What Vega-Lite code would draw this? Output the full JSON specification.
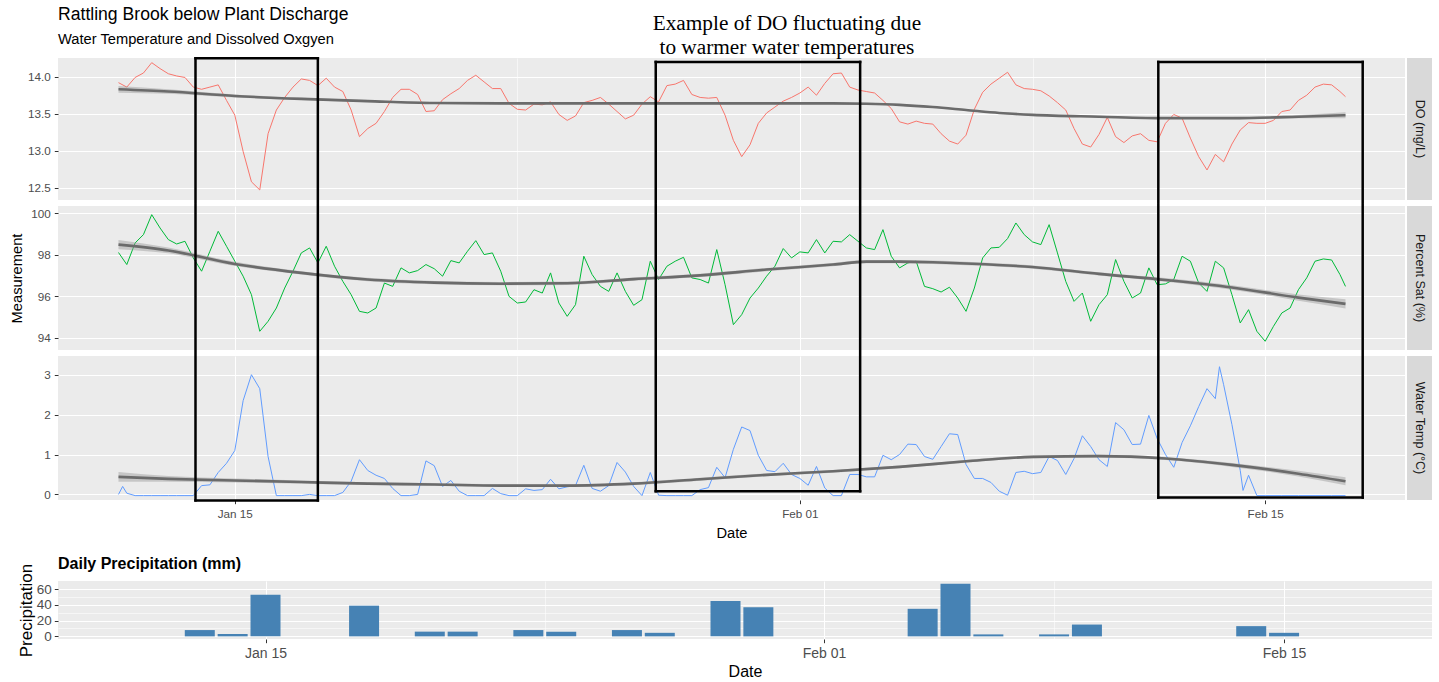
{
"$schema": "https://vega.github.io/schema/vega-lite/v6.json",
"padding": {"left": 9, "top": 6, "right": 5, "bottom": 0},
"background": "white",
"title": {"text": ["Example of DO fluctuating due", "to warmer water temperatures"], "anchor": "middle", "font": "Liberation Serif", "fontSize": 21.3, "fontWeight": "normal", "color": "#000000", "lineHeight": 24, "offset": -52, "dx": 66},
"config": {
  "font": "Liberation Sans",
  "view": {"fill": "#EBEBEB", "stroke": null},
  "axis": {"labelFont": "Liberation Sans", "labelFontSize": 11.7, "labelColor": "#4D4D4D", "tickColor": "#333333", "tickSize": 3.7, "tickWidth": 1, "labelPadding": 4, "domain": false, "gridColor": "#FFFFFF", "titleFont": "Liberation Sans", "titleFontSize": 14.7, "titleFontWeight": "normal", "titleColor": "#000000", "labelOverlap": false}
},
"datasets": {
"do": [
{"t":"2021-01-11T12:00Z","y":13.92},{"t":"2021-01-11T18:00Z","y":13.86},
{"t":"2021-01-12T00:00Z","y":13.99},{"t":"2021-01-12T06:00Z","y":14.05},{"t":"2021-01-12T12:00Z","y":14.19},{"t":"2021-01-12T18:00Z","y":14.11},
{"t":"2021-01-13T00:00Z","y":14.04},{"t":"2021-01-13T06:00Z","y":14.01},{"t":"2021-01-13T12:00Z","y":13.99},{"t":"2021-01-13T18:00Z","y":13.86},
{"t":"2021-01-14T00:00Z","y":13.83},{"t":"2021-01-14T06:00Z","y":13.86},{"t":"2021-01-14T12:00Z","y":13.89},{"t":"2021-01-14T18:00Z","y":13.68},
{"t":"2021-01-15T00:00Z","y":13.48},{"t":"2021-01-15T06:00Z","y":12.99},{"t":"2021-01-15T12:00Z","y":12.58},{"t":"2021-01-15T18:00Z","y":12.47},
{"t":"2021-01-16T00:00Z","y":13.23},{"t":"2021-01-16T06:00Z","y":13.55},{"t":"2021-01-16T12:00Z","y":13.72},{"t":"2021-01-16T18:00Z","y":13.86},
{"t":"2021-01-17T00:00Z","y":13.97},{"t":"2021-01-17T06:00Z","y":13.95},{"t":"2021-01-17T12:00Z","y":13.88},{"t":"2021-01-17T18:00Z","y":13.98},
{"t":"2021-01-18T00:00Z","y":13.86},{"t":"2021-01-18T06:00Z","y":13.80},{"t":"2021-01-18T12:00Z","y":13.55},{"t":"2021-01-18T18:00Z","y":13.19},
{"t":"2021-01-19T00:00Z","y":13.30},{"t":"2021-01-19T06:00Z","y":13.37},{"t":"2021-01-19T12:00Z","y":13.53},{"t":"2021-01-19T18:00Z","y":13.72},
{"t":"2021-01-20T00:00Z","y":13.83},{"t":"2021-01-20T06:00Z","y":13.83},{"t":"2021-01-20T12:00Z","y":13.76},{"t":"2021-01-20T18:00Z","y":13.53},
{"t":"2021-01-21T00:00Z","y":13.54},{"t":"2021-01-21T06:00Z","y":13.69},{"t":"2021-01-21T12:00Z","y":13.77},{"t":"2021-01-21T18:00Z","y":13.84},
{"t":"2021-01-22T00:00Z","y":13.95},{"t":"2021-01-22T06:00Z","y":14.02},{"t":"2021-01-22T12:00Z","y":13.93},{"t":"2021-01-22T18:00Z","y":13.84},
{"t":"2021-01-23T00:00Z","y":13.84},{"t":"2021-01-23T06:00Z","y":13.64},{"t":"2021-01-23T12:00Z","y":13.56},{"t":"2021-01-23T18:00Z","y":13.55},
{"t":"2021-01-24T00:00Z","y":13.63},{"t":"2021-01-24T06:00Z","y":13.62},{"t":"2021-01-24T12:00Z","y":13.66},{"t":"2021-01-24T18:00Z","y":13.49},
{"t":"2021-01-25T00:00Z","y":13.41},{"t":"2021-01-25T06:00Z","y":13.47},{"t":"2021-01-25T12:00Z","y":13.65},{"t":"2021-01-25T18:00Z","y":13.68},
{"t":"2021-01-26T00:00Z","y":13.72},{"t":"2021-01-26T06:00Z","y":13.63},{"t":"2021-01-26T12:00Z","y":13.53},{"t":"2021-01-26T18:00Z","y":13.43},
{"t":"2021-01-27T00:00Z","y":13.48},{"t":"2021-01-27T06:00Z","y":13.63},{"t":"2021-01-27T12:00Z","y":13.73},{"t":"2021-01-27T18:00Z","y":13.66},
{"t":"2021-01-28T00:00Z","y":13.88},{"t":"2021-01-28T06:00Z","y":13.90},{"t":"2021-01-28T12:00Z","y":13.95},{"t":"2021-01-28T18:00Z","y":13.76},
{"t":"2021-01-29T00:00Z","y":13.72},{"t":"2021-01-29T06:00Z","y":13.71},{"t":"2021-01-29T12:00Z","y":13.72},{"t":"2021-01-29T18:00Z","y":13.48},
{"t":"2021-01-30T00:00Z","y":13.14},{"t":"2021-01-30T06:00Z","y":12.92},{"t":"2021-01-30T12:00Z","y":13.08},{"t":"2021-01-30T18:00Z","y":13.37},
{"t":"2021-01-31T00:00Z","y":13.51},{"t":"2021-01-31T06:00Z","y":13.59},{"t":"2021-01-31T12:00Z","y":13.67},{"t":"2021-01-31T18:00Z","y":13.72},
{"t":"2021-02-01T00:00Z","y":13.78},{"t":"2021-02-01T06:00Z","y":13.86},{"t":"2021-02-01T12:00Z","y":13.75},{"t":"2021-02-01T18:00Z","y":13.91},
{"t":"2021-02-02T00:00Z","y":14.04},{"t":"2021-02-02T06:00Z","y":14.05},{"t":"2021-02-02T12:00Z","y":13.86},{"t":"2021-02-02T18:00Z","y":13.82},
{"t":"2021-02-03T00:00Z","y":13.80},{"t":"2021-02-03T06:00Z","y":13.78},{"t":"2021-02-03T12:00Z","y":13.68},{"t":"2021-02-03T18:00Z","y":13.57},
{"t":"2021-02-04T00:00Z","y":13.39},{"t":"2021-02-04T06:00Z","y":13.36},{"t":"2021-02-04T12:00Z","y":13.40},{"t":"2021-02-04T18:00Z","y":13.37},
{"t":"2021-02-05T00:00Z","y":13.36},{"t":"2021-02-05T06:00Z","y":13.23},{"t":"2021-02-05T12:00Z","y":13.13},{"t":"2021-02-05T18:00Z","y":13.09},
{"t":"2021-02-06T00:00Z","y":13.21},{"t":"2021-02-06T06:00Z","y":13.56},{"t":"2021-02-06T12:00Z","y":13.79},{"t":"2021-02-06T18:00Z","y":13.90},
{"t":"2021-02-07T00:00Z","y":13.98},{"t":"2021-02-07T06:00Z","y":14.06},{"t":"2021-02-07T12:00Z","y":13.89},{"t":"2021-02-07T18:00Z","y":13.84},
{"t":"2021-02-08T00:00Z","y":13.83},{"t":"2021-02-08T06:00Z","y":13.81},{"t":"2021-02-08T12:00Z","y":13.74},{"t":"2021-02-08T18:00Z","y":13.65},
{"t":"2021-02-09T00:00Z","y":13.55},{"t":"2021-02-09T06:00Z","y":13.30},{"t":"2021-02-09T12:00Z","y":13.09},{"t":"2021-02-09T18:00Z","y":13.05},
{"t":"2021-02-10T00:00Z","y":13.22},{"t":"2021-02-10T06:00Z","y":13.45},{"t":"2021-02-10T12:00Z","y":13.19},{"t":"2021-02-10T18:00Z","y":13.11},
{"t":"2021-02-11T00:00Z","y":13.20},{"t":"2021-02-11T06:00Z","y":13.23},{"t":"2021-02-11T12:00Z","y":13.14},{"t":"2021-02-11T18:00Z","y":13.12},
{"t":"2021-02-12T00:00Z","y":13.37},{"t":"2021-02-12T06:00Z","y":13.49},{"t":"2021-02-12T12:00Z","y":13.44},{"t":"2021-02-12T18:00Z","y":13.17},
{"t":"2021-02-13T00:00Z","y":12.92},{"t":"2021-02-13T06:00Z","y":12.74},{"t":"2021-02-13T12:00Z","y":12.95},{"t":"2021-02-13T18:00Z","y":12.85},
{"t":"2021-02-14T00:00Z","y":13.09},{"t":"2021-02-14T06:00Z","y":13.28},{"t":"2021-02-14T12:00Z","y":13.38},{"t":"2021-02-14T18:00Z","y":13.37},
{"t":"2021-02-15T00:00Z","y":13.37},{"t":"2021-02-15T06:00Z","y":13.41},{"t":"2021-02-15T12:00Z","y":13.53},{"t":"2021-02-15T18:00Z","y":13.55},
{"t":"2021-02-16T00:00Z","y":13.68},{"t":"2021-02-16T06:00Z","y":13.75},{"t":"2021-02-16T12:00Z","y":13.86},{"t":"2021-02-16T18:00Z","y":13.90},
{"t":"2021-02-17T00:00Z","y":13.89},{"t":"2021-02-17T06:00Z","y":13.80},{"t":"2021-02-17T10:00Z","y":13.73}
],
"sat": [
{"t":"2021-01-11T12:00Z","y":98.1},{"t":"2021-01-11T18:00Z","y":97.52},
{"t":"2021-01-12T00:00Z","y":98.56},{"t":"2021-01-12T06:00Z","y":98.96},{"t":"2021-01-12T12:00Z","y":99.92},{"t":"2021-01-12T18:00Z","y":99.28},
{"t":"2021-01-13T00:00Z","y":98.72},{"t":"2021-01-13T06:00Z","y":98.51},{"t":"2021-01-13T12:00Z","y":98.64},{"t":"2021-01-13T18:00Z","y":97.84},
{"t":"2021-01-14T00:00Z","y":97.2},{"t":"2021-01-14T06:00Z","y":98.16},{"t":"2021-01-14T12:00Z","y":99.12},{"t":"2021-01-14T18:00Z","y":98.4},
{"t":"2021-01-15T00:00Z","y":97.68},{"t":"2021-01-15T06:00Z","y":96.96},{"t":"2021-01-15T12:00Z","y":96.07},{"t":"2021-01-15T18:00Z","y":94.31},
{"t":"2021-01-16T00:00Z","y":94.79},{"t":"2021-01-16T06:00Z","y":95.43},{"t":"2021-01-16T12:00Z","y":96.39},{"t":"2021-01-16T18:00Z","y":97.2},
{"t":"2021-01-17T00:00Z","y":98.08},{"t":"2021-01-17T06:00Z","y":98.32},{"t":"2021-01-17T12:00Z","y":97.6},{"t":"2021-01-17T18:00Z","y":98.4},
{"t":"2021-01-18T00:00Z","y":97.44},{"t":"2021-01-18T06:00Z","y":96.71},{"t":"2021-01-18T12:00Z","y":96.07},{"t":"2021-01-18T18:00Z","y":95.27},
{"t":"2021-01-19T00:00Z","y":95.19},{"t":"2021-01-19T06:00Z","y":95.43},{"t":"2021-01-19T12:00Z","y":96.63},{"t":"2021-01-19T18:00Z","y":96.47},
{"t":"2021-01-20T00:00Z","y":97.36},{"t":"2021-01-20T06:00Z","y":97.12},{"t":"2021-01-20T12:00Z","y":97.23},{"t":"2021-01-20T18:00Z","y":97.52},
{"t":"2021-01-21T00:00Z","y":97.32},{"t":"2021-01-21T06:00Z","y":96.96},{"t":"2021-01-21T12:00Z","y":97.71},{"t":"2021-01-21T18:00Z","y":97.6},
{"t":"2021-01-22T00:00Z","y":98.16},{"t":"2021-01-22T06:00Z","y":98.67},{"t":"2021-01-22T12:00Z","y":98.0},{"t":"2021-01-22T18:00Z","y":98.08},
{"t":"2021-01-23T00:00Z","y":97.2},{"t":"2021-01-23T06:00Z","y":95.99},{"t":"2021-01-23T12:00Z","y":95.67},{"t":"2021-01-23T18:00Z","y":95.72},
{"t":"2021-01-24T00:00Z","y":96.31},{"t":"2021-01-24T06:00Z","y":96.15},{"t":"2021-01-24T12:00Z","y":97.12},{"t":"2021-01-24T18:00Z","y":95.67},
{"t":"2021-01-25T00:00Z","y":95.03},{"t":"2021-01-25T06:00Z","y":95.59},{"t":"2021-01-25T12:00Z","y":97.92},{"t":"2021-01-25T18:00Z","y":97.04},
{"t":"2021-01-26T00:00Z","y":96.47},{"t":"2021-01-26T06:00Z","y":96.23},{"t":"2021-01-26T12:00Z","y":97.12},{"t":"2021-01-26T18:00Z","y":96.23},
{"t":"2021-01-27T00:00Z","y":95.56},{"t":"2021-01-27T06:00Z","y":95.83},{"t":"2021-01-27T12:00Z","y":97.68},{"t":"2021-01-27T18:00Z","y":96.8},
{"t":"2021-01-28T00:00Z","y":97.44},{"t":"2021-01-28T06:00Z","y":97.68},{"t":"2021-01-28T12:00Z","y":97.87},{"t":"2021-01-28T18:00Z","y":96.88},
{"t":"2021-01-29T00:00Z","y":96.8},{"t":"2021-01-29T06:00Z","y":96.63},{"t":"2021-01-29T12:00Z","y":98.24},{"t":"2021-01-29T18:00Z","y":96.55},
{"t":"2021-01-30T00:00Z","y":94.63},{"t":"2021-01-30T06:00Z","y":95.11},{"t":"2021-01-30T12:00Z","y":95.91},{"t":"2021-01-30T18:00Z","y":96.39},
{"t":"2021-01-31T00:00Z","y":96.96},{"t":"2021-01-31T06:00Z","y":97.44},{"t":"2021-01-31T12:00Z","y":98.29},{"t":"2021-01-31T18:00Z","y":97.84},
{"t":"2021-02-01T00:00Z","y":98.13},{"t":"2021-02-01T06:00Z","y":98.08},{"t":"2021-02-01T12:00Z","y":98.72},{"t":"2021-02-01T18:00Z","y":98.08},
{"t":"2021-02-02T00:00Z","y":98.64},{"t":"2021-02-02T06:00Z","y":98.61},{"t":"2021-02-02T12:00Z","y":98.96},{"t":"2021-02-02T18:00Z","y":98.64},
{"t":"2021-02-03T00:00Z","y":98.32},{"t":"2021-02-03T06:00Z","y":98.24},{"t":"2021-02-03T12:00Z","y":99.2},{"t":"2021-02-03T18:00Z","y":97.92},
{"t":"2021-02-04T00:00Z","y":97.36},{"t":"2021-02-04T06:00Z","y":97.6},{"t":"2021-02-04T12:00Z","y":97.68},{"t":"2021-02-04T18:00Z","y":96.47},
{"t":"2021-02-05T00:00Z","y":96.36},{"t":"2021-02-05T06:00Z","y":96.2},{"t":"2021-02-05T12:00Z","y":96.43},{"t":"2021-02-05T18:00Z","y":95.91},
{"t":"2021-02-06T00:00Z","y":95.27},{"t":"2021-02-06T06:00Z","y":96.39},{"t":"2021-02-06T12:00Z","y":97.84},{"t":"2021-02-06T18:00Z","y":98.32},
{"t":"2021-02-07T00:00Z","y":98.35},{"t":"2021-02-07T06:00Z","y":98.77},{"t":"2021-02-07T12:00Z","y":99.52},{"t":"2021-02-07T18:00Z","y":98.96},
{"t":"2021-02-08T00:00Z","y":98.61},{"t":"2021-02-08T06:00Z","y":98.48},{"t":"2021-02-08T12:00Z","y":99.44},{"t":"2021-02-08T18:00Z","y":98.08},
{"t":"2021-02-09T00:00Z","y":96.71},{"t":"2021-02-09T06:00Z","y":95.75},{"t":"2021-02-09T12:00Z","y":96.15},{"t":"2021-02-09T18:00Z","y":94.79},
{"t":"2021-02-10T00:00Z","y":95.59},{"t":"2021-02-10T06:00Z","y":96.07},{"t":"2021-02-10T12:00Z","y":97.76},{"t":"2021-02-10T18:00Z","y":96.71},
{"t":"2021-02-11T00:00Z","y":95.91},{"t":"2021-02-11T06:00Z","y":96.15},{"t":"2021-02-11T12:00Z","y":97.36},{"t":"2021-02-11T18:00Z","y":96.55},
{"t":"2021-02-12T00:00Z","y":96.59},{"t":"2021-02-12T06:00Z","y":96.8},{"t":"2021-02-12T12:00Z","y":97.92},{"t":"2021-02-12T18:00Z","y":97.68},
{"t":"2021-02-13T00:00Z","y":96.63},{"t":"2021-02-13T06:00Z","y":96.23},{"t":"2021-02-13T12:00Z","y":97.68},{"t":"2021-02-13T18:00Z","y":97.36},
{"t":"2021-02-14T00:00Z","y":96.07},{"t":"2021-02-14T06:00Z","y":94.71},{"t":"2021-02-14T12:00Z","y":95.35},{"t":"2021-02-14T18:00Z","y":94.31},
{"t":"2021-02-15T00:00Z","y":93.83},{"t":"2021-02-15T06:00Z","y":94.55},{"t":"2021-02-15T12:00Z","y":95.19},{"t":"2021-02-15T18:00Z","y":95.43},
{"t":"2021-02-16T00:00Z","y":96.31},{"t":"2021-02-16T06:00Z","y":96.88},{"t":"2021-02-16T12:00Z","y":97.68},{"t":"2021-02-16T18:00Z","y":97.79},
{"t":"2021-02-17T00:00Z","y":97.74},{"t":"2021-02-17T06:00Z","y":97.04},{"t":"2021-02-17T10:00Z","y":96.47}
],
"temp": [
{"t":"2021-01-11T12:00Z","y":0.0},{"t":"2021-01-11T15:00Z","y":0.2},{"t":"2021-01-11T18:00Z","y":0.03},
{"t":"2021-01-12T00:00Z","y":-0.03},{"t":"2021-01-12T06:00Z","y":-0.03},{"t":"2021-01-12T12:00Z","y":-0.03},{"t":"2021-01-12T18:00Z","y":-0.03},
{"t":"2021-01-13T00:00Z","y":-0.03},{"t":"2021-01-13T06:00Z","y":-0.03},{"t":"2021-01-13T12:00Z","y":-0.03},{"t":"2021-01-13T18:00Z","y":-0.03},
{"t":"2021-01-14T00:00Z","y":0.22},{"t":"2021-01-14T06:00Z","y":0.24},{"t":"2021-01-14T12:00Z","y":0.55},{"t":"2021-01-14T18:00Z","y":0.78},
{"t":"2021-01-15T00:00Z","y":1.1},{"t":"2021-01-15T06:00Z","y":2.35},{"t":"2021-01-15T12:00Z","y":3.0},{"t":"2021-01-15T18:00Z","y":2.65},
{"t":"2021-01-16T00:00Z","y":0.95},{"t":"2021-01-16T06:00Z","y":-0.03},{"t":"2021-01-16T12:00Z","y":-0.03},{"t":"2021-01-16T18:00Z","y":-0.03},
{"t":"2021-01-17T00:00Z","y":-0.03},{"t":"2021-01-17T06:00Z","y":0.0},{"t":"2021-01-17T12:00Z","y":-0.03},{"t":"2021-01-17T18:00Z","y":-0.03},
{"t":"2021-01-18T00:00Z","y":-0.03},{"t":"2021-01-18T06:00Z","y":0.05},{"t":"2021-01-18T12:00Z","y":0.33},{"t":"2021-01-18T18:00Z","y":0.87},
{"t":"2021-01-19T00:00Z","y":0.6},{"t":"2021-01-19T06:00Z","y":0.48},{"t":"2021-01-19T12:00Z","y":0.4},{"t":"2021-01-19T18:00Z","y":0.15},
{"t":"2021-01-20T00:00Z","y":-0.03},{"t":"2021-01-20T06:00Z","y":-0.03},{"t":"2021-01-20T12:00Z","y":0.0},{"t":"2021-01-20T18:00Z","y":0.84},
{"t":"2021-01-21T00:00Z","y":0.72},{"t":"2021-01-21T06:00Z","y":0.2},{"t":"2021-01-21T12:00Z","y":0.35},{"t":"2021-01-21T18:00Z","y":0.08},
{"t":"2021-01-22T00:00Z","y":-0.03},{"t":"2021-01-22T06:00Z","y":-0.03},{"t":"2021-01-22T12:00Z","y":-0.03},{"t":"2021-01-22T18:00Z","y":0.15},
{"t":"2021-01-23T00:00Z","y":0.02},{"t":"2021-01-23T06:00Z","y":-0.03},{"t":"2021-01-23T12:00Z","y":-0.03},{"t":"2021-01-23T18:00Z","y":0.14},
{"t":"2021-01-24T00:00Z","y":0.1},{"t":"2021-01-24T06:00Z","y":0.12},{"t":"2021-01-24T12:00Z","y":0.38},{"t":"2021-01-24T18:00Z","y":0.14},
{"t":"2021-01-25T00:00Z","y":0.19},{"t":"2021-01-25T06:00Z","y":0.22},{"t":"2021-01-25T12:00Z","y":0.73},{"t":"2021-01-25T18:00Z","y":0.15},
{"t":"2021-01-26T00:00Z","y":0.08},{"t":"2021-01-26T06:00Z","y":0.22},{"t":"2021-01-26T12:00Z","y":0.8},{"t":"2021-01-26T18:00Z","y":0.56},
{"t":"2021-01-27T00:00Z","y":0.2},{"t":"2021-01-27T06:00Z","y":-0.03},{"t":"2021-01-27T12:00Z","y":0.55},{"t":"2021-01-27T18:00Z","y":-0.02},
{"t":"2021-01-28T00:00Z","y":-0.03},{"t":"2021-01-28T06:00Z","y":-0.03},{"t":"2021-01-28T12:00Z","y":-0.03},{"t":"2021-01-28T18:00Z","y":-0.03},
{"t":"2021-01-29T00:00Z","y":0.12},{"t":"2021-01-29T06:00Z","y":0.17},{"t":"2021-01-29T12:00Z","y":0.68},{"t":"2021-01-29T18:00Z","y":0.42},
{"t":"2021-01-30T00:00Z","y":1.13},{"t":"2021-01-30T06:00Z","y":1.69},{"t":"2021-01-30T12:00Z","y":1.6},{"t":"2021-01-30T18:00Z","y":0.98},
{"t":"2021-01-31T00:00Z","y":0.6},{"t":"2021-01-31T06:00Z","y":0.57},{"t":"2021-01-31T12:00Z","y":0.78},{"t":"2021-01-31T18:00Z","y":0.5},
{"t":"2021-02-01T00:00Z","y":0.4},{"t":"2021-02-01T06:00Z","y":0.23},{"t":"2021-02-01T12:00Z","y":0.7},{"t":"2021-02-01T18:00Z","y":0.16},
{"t":"2021-02-02T00:00Z","y":-0.03},{"t":"2021-02-02T06:00Z","y":-0.03},{"t":"2021-02-02T12:00Z","y":0.5},{"t":"2021-02-02T18:00Z","y":0.5},
{"t":"2021-02-03T00:00Z","y":0.44},{"t":"2021-02-03T06:00Z","y":0.44},{"t":"2021-02-03T12:00Z","y":0.98},{"t":"2021-02-03T18:00Z","y":0.87},
{"t":"2021-02-04T00:00Z","y":1.0},{"t":"2021-02-04T06:00Z","y":1.26},{"t":"2021-02-04T12:00Z","y":1.25},{"t":"2021-02-04T18:00Z","y":0.95},
{"t":"2021-02-05T00:00Z","y":0.88},{"t":"2021-02-05T06:00Z","y":1.2},{"t":"2021-02-05T12:00Z","y":1.52},{"t":"2021-02-05T18:00Z","y":1.5},
{"t":"2021-02-06T00:00Z","y":0.75},{"t":"2021-02-06T06:00Z","y":0.4},{"t":"2021-02-06T12:00Z","y":0.4},{"t":"2021-02-06T18:00Z","y":0.3},
{"t":"2021-02-07T00:00Z","y":0.08},{"t":"2021-02-07T06:00Z","y":-0.02},{"t":"2021-02-07T12:00Z","y":0.55},{"t":"2021-02-07T18:00Z","y":0.58},
{"t":"2021-02-08T00:00Z","y":0.52},{"t":"2021-02-08T06:00Z","y":0.55},{"t":"2021-02-08T12:00Z","y":0.95},{"t":"2021-02-08T18:00Z","y":0.85},
{"t":"2021-02-09T00:00Z","y":0.5},{"t":"2021-02-09T06:00Z","y":0.9},{"t":"2021-02-09T12:00Z","y":1.47},{"t":"2021-02-09T18:00Z","y":1.2},
{"t":"2021-02-10T00:00Z","y":0.87},{"t":"2021-02-10T06:00Z","y":0.7},{"t":"2021-02-10T12:00Z","y":1.8},{"t":"2021-02-10T18:00Z","y":1.62},
{"t":"2021-02-11T00:00Z","y":1.25},{"t":"2021-02-11T06:00Z","y":1.26},{"t":"2021-02-11T12:00Z","y":1.98},{"t":"2021-02-11T18:00Z","y":1.4},
{"t":"2021-02-12T00:00Z","y":1.0},{"t":"2021-02-12T06:00Z","y":0.68},{"t":"2021-02-12T12:00Z","y":1.3},{"t":"2021-02-12T18:00Z","y":1.72},
{"t":"2021-02-13T00:00Z","y":2.2},{"t":"2021-02-13T06:00Z","y":2.65},{"t":"2021-02-13T12:00Z","y":2.4},{"t":"2021-02-13T15:00Z","y":3.2},{"t":"2021-02-13T18:00Z","y":2.75},
{"t":"2021-02-14T00:00Z","y":1.75},{"t":"2021-02-14T06:00Z","y":0.6},{"t":"2021-02-14T08:00Z","y":0.1},{"t":"2021-02-14T12:00Z","y":0.48},{"t":"2021-02-14T18:00Z","y":-0.03},
{"t":"2021-02-15T00:00Z","y":-0.03},{"t":"2021-02-15T12:00Z","y":-0.03},
{"t":"2021-02-16T00:00Z","y":-0.03},{"t":"2021-02-16T12:00Z","y":-0.03},
{"t":"2021-02-17T00:00Z","y":-0.03},{"t":"2021-02-17T10:00Z","y":-0.03}
],
"do_fit": [
{"t":"2021-01-11T12:00Z","fit":13.83,"lo":13.785,"hi":13.875},
{"t":"2021-01-13T00:00Z","fit":13.80,"lo":13.77,"hi":13.83},
{"t":"2021-01-15T00:00Z","fit":13.74,"lo":13.72,"hi":13.76},
{"t":"2021-01-17T00:00Z","fit":13.70,"lo":13.685,"hi":13.715},
{"t":"2021-01-19T00:00Z","fit":13.67,"lo":13.655,"hi":13.685},
{"t":"2021-01-21T00:00Z","fit":13.645,"lo":13.632,"hi":13.658},
{"t":"2021-01-23T00:00Z","fit":13.64,"lo":13.628,"hi":13.652},
{"t":"2021-01-25T00:00Z","fit":13.64,"lo":13.628,"hi":13.652},
{"t":"2021-01-27T00:00Z","fit":13.64,"lo":13.628,"hi":13.652},
{"t":"2021-01-29T00:00Z","fit":13.64,"lo":13.628,"hi":13.652},
{"t":"2021-01-31T00:00Z","fit":13.64,"lo":13.628,"hi":13.652},
{"t":"2021-02-02T00:00Z","fit":13.64,"lo":13.628,"hi":13.652},
{"t":"2021-02-03T00:00Z","fit":13.635,"lo":13.623,"hi":13.647},
{"t":"2021-02-04T00:00Z","fit":13.62,"lo":13.608,"hi":13.632},
{"t":"2021-02-05T00:00Z","fit":13.59,"lo":13.578,"hi":13.602},
{"t":"2021-02-06T00:00Z","fit":13.55,"lo":13.538,"hi":13.562},
{"t":"2021-02-07T00:00Z","fit":13.51,"lo":13.498,"hi":13.522},
{"t":"2021-02-08T00:00Z","fit":13.485,"lo":13.473,"hi":13.497},
{"t":"2021-02-10T00:00Z","fit":13.46,"lo":13.447,"hi":13.473},
{"t":"2021-02-12T00:00Z","fit":13.44,"lo":13.427,"hi":13.453},
{"t":"2021-02-14T00:00Z","fit":13.44,"lo":13.425,"hi":13.455},
{"t":"2021-02-16T00:00Z","fit":13.46,"lo":13.438,"hi":13.482},
{"t":"2021-02-17T10:00Z","fit":13.48,"lo":13.44,"hi":13.52}
],
"sat_fit": [
{"t":"2021-01-11T12:00Z","fit":98.48,"lo":98.26,"hi":98.70},
{"t":"2021-01-13T00:00Z","fit":98.2,"lo":98.06,"hi":98.34},
{"t":"2021-01-15T00:00Z","fit":97.55,"lo":97.45,"hi":97.65},
{"t":"2021-01-17T00:00Z","fit":97.12,"lo":97.04,"hi":97.20},
{"t":"2021-01-19T00:00Z","fit":96.8,"lo":96.72,"hi":96.88},
{"t":"2021-01-21T00:00Z","fit":96.65,"lo":96.57,"hi":96.73},
{"t":"2021-01-23T00:00Z","fit":96.6,"lo":96.52,"hi":96.68},
{"t":"2021-01-25T00:00Z","fit":96.62,"lo":96.54,"hi":96.70},
{"t":"2021-01-27T00:00Z","fit":96.82,"lo":96.74,"hi":96.90},
{"t":"2021-01-29T00:00Z","fit":97.0,"lo":96.92,"hi":97.08},
{"t":"2021-01-31T00:00Z","fit":97.28,"lo":97.20,"hi":97.36},
{"t":"2021-02-02T00:00Z","fit":97.52,"lo":97.44,"hi":97.60},
{"t":"2021-02-03T00:00Z","fit":97.66,"lo":97.58,"hi":97.74},
{"t":"2021-02-04T00:00Z","fit":97.66,"lo":97.58,"hi":97.74},
{"t":"2021-02-05T00:00Z","fit":97.63,"lo":97.55,"hi":97.71},
{"t":"2021-02-06T00:00Z","fit":97.57,"lo":97.49,"hi":97.65},
{"t":"2021-02-08T00:00Z","fit":97.4,"lo":97.32,"hi":97.48},
{"t":"2021-02-10T00:00Z","fit":97.07,"lo":96.99,"hi":97.15},
{"t":"2021-02-12T00:00Z","fit":96.78,"lo":96.69,"hi":96.87},
{"t":"2021-02-14T00:00Z","fit":96.42,"lo":96.31,"hi":96.53},
{"t":"2021-02-16T00:00Z","fit":95.93,"lo":95.78,"hi":96.08},
{"t":"2021-02-17T10:00Z","fit":95.63,"lo":95.41,"hi":95.85}
],
"temp_fit": [
{"t":"2021-01-11T12:00Z","fit":0.44,"lo":0.32,"hi":0.56},
{"t":"2021-01-13T00:00Z","fit":0.39,"lo":0.32,"hi":0.46},
{"t":"2021-01-15T00:00Z","fit":0.35,"lo":0.30,"hi":0.40},
{"t":"2021-01-17T00:00Z","fit":0.31,"lo":0.27,"hi":0.35},
{"t":"2021-01-19T00:00Z","fit":0.27,"lo":0.235,"hi":0.305},
{"t":"2021-01-21T00:00Z","fit":0.25,"lo":0.215,"hi":0.285},
{"t":"2021-01-23T00:00Z","fit":0.22,"lo":0.185,"hi":0.255},
{"t":"2021-01-25T00:00Z","fit":0.22,"lo":0.185,"hi":0.255},
{"t":"2021-01-27T00:00Z","fit":0.27,"lo":0.235,"hi":0.305},
{"t":"2021-01-29T00:00Z","fit":0.38,"lo":0.345,"hi":0.415},
{"t":"2021-01-31T00:00Z","fit":0.49,"lo":0.455,"hi":0.525},
{"t":"2021-02-02T00:00Z","fit":0.58,"lo":0.545,"hi":0.615},
{"t":"2021-02-04T00:00Z","fit":0.69,"lo":0.655,"hi":0.725},
{"t":"2021-02-06T00:00Z","fit":0.83,"lo":0.795,"hi":0.865},
{"t":"2021-02-08T00:00Z","fit":0.94,"lo":0.905,"hi":0.975},
{"t":"2021-02-10T00:00Z","fit":0.96,"lo":0.925,"hi":0.995},
{"t":"2021-02-12T00:00Z","fit":0.9,"lo":0.86,"hi":0.94},
{"t":"2021-02-14T00:00Z","fit":0.74,"lo":0.69,"hi":0.79},
{"t":"2021-02-16T00:00Z","fit":0.52,"lo":0.45,"hi":0.59},
{"t":"2021-02-17T10:00Z","fit":0.33,"lo":0.23,"hi":0.43}
],
"boxes": [
{"start":"2021-01-13T19:36Z","end":"2021-01-17T11:57Z","top":14.25,"bottom":-0.15},
{"start":"2021-01-27T15:56Z","end":"2021-02-02T19:32Z","top":14.2,"bottom":0.08},
{"start":"2021-02-11T18:50Z","end":"2021-02-17T22:25Z","top":14.2,"bottom":-0.08}
],
"precip": [
{"date":"2021-01-13","precip":8},{"date":"2021-01-14","precip":3},{"date":"2021-01-15","precip":53},
{"date":"2021-01-18","precip":39},{"date":"2021-01-20","precip":6},{"date":"2021-01-21","precip":6},
{"date":"2021-01-23","precip":8},{"date":"2021-01-24","precip":6},{"date":"2021-01-26","precip":8},
{"date":"2021-01-27","precip":4.5},{"date":"2021-01-29","precip":45},{"date":"2021-01-30","precip":37},
{"date":"2021-02-04","precip":35},{"date":"2021-02-05","precip":67},{"date":"2021-02-06","precip":2.5},
{"date":"2021-02-08","precip":2.5},{"date":"2021-02-09","precip":15},{"date":"2021-02-14","precip":13},
{"date":"2021-02-15","precip":4.5}
]
},
"spacing": 15,
"vconcat": [
{
"spacing": -2,
"vconcat": [
{
"spacing": 2,
"hconcat": [
{
"width": 1347, "height": 142,
"title": {"text": "Rattling Brook below Plant Discharge", "subtitle": "Water Temperature and Dissolved Oxgyen", "anchor": "start", "frame": "group", "font": "Liberation Sans", "fontSize": 17.6, "fontWeight": "normal", "color": "#000000", "subtitleFont": "Liberation Sans", "subtitleFontSize": 14.7, "subtitleColor": "#000000", "subtitlePadding": 8, "offset": 10},
"layer": [
{"data": {"name": "do"}, "mark": {"type": "line", "color": "#F8766D", "strokeWidth": 1},
 "encoding": {
  "x": {"field": "t", "type": "temporal", "scale": {"type": "utc", "nice": false, "domain": [{"year":2021,"month":1,"date":9,"hours":16,"minutes":19,"utc":true},{"year":2021,"month":2,"date":19,"hours":4,"minutes":58,"utc":true}]},
        "axis": {"values": [{"year":2021,"month":1,"date":15,"utc":true},{"year":2021,"month":1,"date":23,"hours":12,"utc":true},{"year":2021,"month":2,"date":1,"utc":true},{"year":2021,"month":2,"date":8,"utc":true},{"year":2021,"month":2,"date":15,"utc":true}],
                 "labels": false, "ticks": false, "title": null, "grid": true,
                 "gridWidth": {"condition": {"test": "utcdate(datum.value) == 1 || utcdate(datum.value) == 15", "value": 1.1}, "value": 0.55}}},
  "y": {"field": "y", "type": "quantitative", "scale": {"domain": [12.334, 14.253], "nice": false, "zero": false},
        "axis": {"values": [12.5, 12.75, 13, 13.25, 13.5, 13.75, 14], "format": ".1f", "title": null,
                 "labelExpr": "datum.value % 0.5 == 0 ? datum.label : ''",
                 "tickOpacity": {"condition": {"test": "datum.value % 0.5 == 0", "value": 1}, "value": 0},
                 "gridWidth": {"condition": {"test": "datum.value % 0.5 == 0", "value": 1.1}, "value": 0.55}}}
 }},
{"data": {"name": "do_fit"}, "mark": {"type": "area", "color": "#999999", "opacity": 0.45, "interpolate": "monotone"},
 "encoding": {"x": {"field": "t", "type": "temporal"}, "y": {"field": "lo", "type": "quantitative"}, "y2": {"field": "hi"}}},
{"data": {"name": "do_fit"}, "mark": {"type": "line", "color": "#6B6B6B", "strokeWidth": 2.6, "interpolate": "monotone"},
 "encoding": {"x": {"field": "t", "type": "temporal"}, "y": {"field": "fit", "type": "quantitative"}}},
{"data": {"name": "boxes"}, "mark": {"type": "rule", "color": "#000000", "strokeWidth": 2.5, "strokeCap": "square"},
 "encoding": {"x": {"field": "start", "type": "temporal"}, "y": {"field": "top", "type": "quantitative"}, "y2": {"datum": 12.31}}},
{"data": {"name": "boxes"}, "mark": {"type": "rule", "color": "#000000", "strokeWidth": 2.5, "strokeCap": "square"},
 "encoding": {"x": {"field": "end", "type": "temporal"}, "y": {"field": "top", "type": "quantitative"}, "y2": {"datum": 12.31}}},
{"data": {"name": "boxes"}, "mark": {"type": "rule", "color": "#000000", "strokeWidth": 2.5, "strokeCap": "square"},
 "encoding": {"x": {"field": "start", "type": "temporal"}, "x2": {"field": "end"}, "y": {"field": "top", "type": "quantitative"}}}
]
},
{"width": 25, "height": 142, "view": {"fill": "#D9D9D9", "stroke": null}, "data": {"values": [{"label": "DO (mg/L)"}]},
 "mark": {"type": "text", "angle": 90, "font": "Liberation Sans", "fontSize": 12.5, "color": "#1A1A1A"},
 "encoding": {"text": {"field": "label"}}}
]
},
{
"spacing": 2,
"hconcat": [
{
"width": 1347, "height": 144,
"layer": [
{"data": {"name": "sat"}, "mark": {"type": "line", "color": "#00BA38", "strokeWidth": 1},
 "encoding": {
  "x": {"field": "t", "type": "temporal", "scale": {"type": "utc", "nice": false, "domain": [{"year":2021,"month":1,"date":9,"hours":16,"minutes":19,"utc":true},{"year":2021,"month":2,"date":19,"hours":4,"minutes":58,"utc":true}]},
        "axis": {"values": [{"year":2021,"month":1,"date":15,"utc":true},{"year":2021,"month":1,"date":23,"hours":12,"utc":true},{"year":2021,"month":2,"date":1,"utc":true},{"year":2021,"month":2,"date":8,"utc":true},{"year":2021,"month":2,"date":15,"utc":true}],
                 "labels": false, "ticks": false, "title": null, "grid": true,
                 "gridWidth": {"condition": {"test": "utcdate(datum.value) == 1 || utcdate(datum.value) == 15", "value": 1.1}, "value": 0.55}}},
  "y": {"field": "y", "type": "quantitative", "scale": {"domain": [93.41, 100.337], "nice": false, "zero": false},
        "axis": {"values": [94, 95, 96, 97, 98, 99, 100], "format": "d", "title": "Measurement", "titlePadding": 6,
                 "labelExpr": "datum.value % 2 == 0 ? datum.label : ''",
                 "tickOpacity": {"condition": {"test": "datum.value % 2 == 0", "value": 1}, "value": 0},
                 "gridWidth": {"condition": {"test": "datum.value % 2 == 0", "value": 1.1}, "value": 0.55}}}
 }},
{"data": {"name": "sat_fit"}, "mark": {"type": "area", "color": "#999999", "opacity": 0.45, "interpolate": "monotone"},
 "encoding": {"x": {"field": "t", "type": "temporal"}, "y": {"field": "lo", "type": "quantitative"}, "y2": {"field": "hi"}}},
{"data": {"name": "sat_fit"}, "mark": {"type": "line", "color": "#6B6B6B", "strokeWidth": 2.6, "interpolate": "monotone"},
 "encoding": {"x": {"field": "t", "type": "temporal"}, "y": {"field": "fit", "type": "quantitative"}}},
{"data": {"name": "boxes"}, "mark": {"type": "rule", "color": "#000000", "strokeWidth": 2.5, "strokeCap": "square"},
 "encoding": {"x": {"field": "start", "type": "temporal"}, "y": {"datum": 100.42, "type": "quantitative"}, "y2": {"datum": 93.326}}},
{"data": {"name": "boxes"}, "mark": {"type": "rule", "color": "#000000", "strokeWidth": 2.5, "strokeCap": "square"},
 "encoding": {"x": {"field": "end", "type": "temporal"}, "y": {"datum": 100.42, "type": "quantitative"}, "y2": {"datum": 93.326}}}
]
},
{"width": 25, "height": 144, "view": {"fill": "#D9D9D9", "stroke": null}, "data": {"values": [{"label": "Percent Sat (%)"}]},
 "mark": {"type": "text", "angle": 90, "font": "Liberation Sans", "fontSize": 12.5, "color": "#1A1A1A"},
 "encoding": {"text": {"field": "label"}}}
]
},
{
"spacing": 2,
"hconcat": [
{
"width": 1347, "height": 144,
"layer": [
{"data": {"name": "temp"}, "mark": {"type": "line", "color": "#619CFF", "strokeWidth": 1},
 "encoding": {
  "x": {"field": "t", "type": "temporal", "scale": {"type": "utc", "nice": false, "domain": [{"year":2021,"month":1,"date":9,"hours":16,"minutes":19,"utc":true},{"year":2021,"month":2,"date":19,"hours":4,"minutes":58,"utc":true}]},
        "axis": {"values": [{"year":2021,"month":1,"date":15,"utc":true},{"year":2021,"month":1,"date":23,"hours":12,"utc":true},{"year":2021,"month":2,"date":1,"utc":true},{"year":2021,"month":2,"date":8,"utc":true},{"year":2021,"month":2,"date":15,"utc":true}],
                 "format": "%b %d", "title": "Date", "titlePadding": 6, "labelPadding": 4.5, "grid": true,
                 "labelExpr": "(utcdate(datum.value) == 1 || utcdate(datum.value) == 15) ? datum.label : ''",
                 "tickOpacity": {"condition": {"test": "utcdate(datum.value) == 1 || utcdate(datum.value) == 15", "value": 1}, "value": 0},
                 "gridWidth": {"condition": {"test": "utcdate(datum.value) == 1 || utcdate(datum.value) == 15", "value": 1.1}, "value": 0.55}}},
  "y": {"field": "y", "type": "quantitative", "scale": {"domain": [-0.14, 3.469], "nice": false, "zero": false},
        "axis": {"values": [0, 0.5, 1, 1.5, 2, 2.5, 3], "format": ".0f", "title": null,
                 "labelExpr": "datum.value % 1 == 0 ? datum.label : ''",
                 "tickOpacity": {"condition": {"test": "datum.value % 1 == 0", "value": 1}, "value": 0},
                 "gridWidth": {"condition": {"test": "datum.value % 1 == 0", "value": 1.1}, "value": 0.55}}}
 }},
{"data": {"name": "temp_fit"}, "mark": {"type": "area", "color": "#999999", "opacity": 0.45, "interpolate": "monotone"},
 "encoding": {"x": {"field": "t", "type": "temporal"}, "y": {"field": "lo", "type": "quantitative"}, "y2": {"field": "hi"}}},
{"data": {"name": "temp_fit"}, "mark": {"type": "line", "color": "#6B6B6B", "strokeWidth": 2.6, "interpolate": "monotone"},
 "encoding": {"x": {"field": "t", "type": "temporal"}, "y": {"field": "fit", "type": "quantitative"}}},
{"data": {"name": "boxes"}, "mark": {"type": "rule", "color": "#000000", "strokeWidth": 2.5, "strokeCap": "square"},
 "encoding": {"x": {"field": "start", "type": "temporal"}, "y": {"field": "bottom", "type": "quantitative"}, "y2": {"datum": 3.513}}},
{"data": {"name": "boxes"}, "mark": {"type": "rule", "color": "#000000", "strokeWidth": 2.5, "strokeCap": "square"},
 "encoding": {"x": {"field": "end", "type": "temporal"}, "y": {"field": "bottom", "type": "quantitative"}, "y2": {"datum": 3.513}}},
{"data": {"name": "boxes"}, "mark": {"type": "rule", "color": "#000000", "strokeWidth": 2.5, "strokeCap": "square"},
 "encoding": {"x": {"field": "start", "type": "temporal"}, "x2": {"field": "end"}, "y": {"field": "bottom", "type": "quantitative"}}}
]
},
{"width": 25, "height": 144, "view": {"fill": "#D9D9D9", "stroke": null}, "data": {"values": [{"label": "Water Temp (°C)"}]},
 "mark": {"type": "text", "angle": 90, "font": "Liberation Sans", "fontSize": 12.5, "color": "#1A1A1A"},
 "encoding": {"text": {"field": "label"}}}
]
}
]
},
{
"width": 1374, "height": 58,
"title": {"text": "Daily Precipitation (mm)", "anchor": "start", "frame": "group", "font": "Liberation Sans", "fontSize": 16, "fontWeight": "bold", "color": "#000000", "offset": -9},
"data": {"name": "precip"},
"mark": {"type": "bar", "color": "#4682B4", "width": 30},
"encoding": {
  "x": {"field": "date", "type": "temporal", "scale": {"type": "utc", "nice": false, "domain": [{"year":2021,"month":1,"date":8,"hours":20,"minutes":5,"utc":true},{"year":2021,"month":2,"date":19,"hours":8,"minutes":24,"utc":true}]},
        "axis": {"values": [{"year":2021,"month":1,"date":15,"utc":true},{"year":2021,"month":1,"date":23,"hours":12,"utc":true},{"year":2021,"month":2,"date":1,"utc":true},{"year":2021,"month":2,"date":8,"utc":true},{"year":2021,"month":2,"date":15,"utc":true}],
                 "format": "%b %d", "title": "Date", "titlePadding": 3, "labelPadding": 4, "grid": true,
                 "labelFontSize": 14, "titleFontSize": 16,
                 "labelExpr": "(utcdate(datum.value) == 1 || utcdate(datum.value) == 15) ? datum.label : ''",
                 "tickOpacity": {"condition": {"test": "utcdate(datum.value) == 1 || utcdate(datum.value) == 15", "value": 1}, "value": 0},
                 "gridWidth": {"condition": {"test": "utcdate(datum.value) == 1 || utcdate(datum.value) == 15", "value": 1.1}, "value": 0.55}}},
  "y": {"field": "precip", "type": "quantitative", "scale": {"domain": [-3.35, 70.35], "nice": false, "zero": false},
        "axis": {"values": [0, 10, 20, 30, 40, 50, 60], "format": "d", "title": "Precipitation", "titlePadding": 1, "labelPadding": 3,
                 "labelFontSize": 13.5, "titleFontSize": 17,
                 "labelExpr": "datum.value % 20 == 0 ? datum.label : ''",
                 "tickOpacity": {"condition": {"test": "datum.value % 20 == 0", "value": 1}, "value": 0},
                 "gridWidth": {"condition": {"test": "datum.value % 20 == 0", "value": 1.1}, "value": 0.55}}}
}
}
]
}
